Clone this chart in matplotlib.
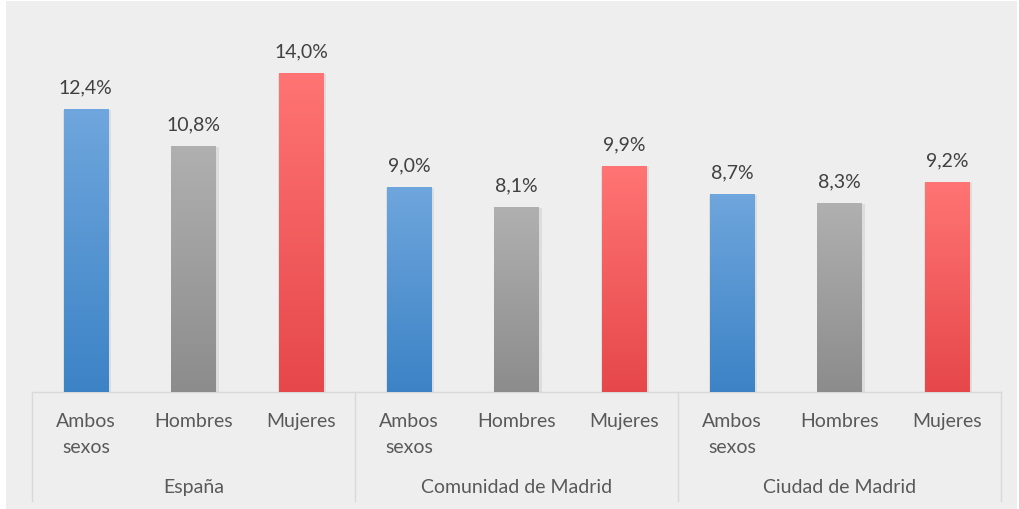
import numpy as np
import matplotlib
matplotlib.use("Agg")
import matplotlib.pyplot as plt
from matplotlib.patches import Rectangle

# data
groups = ["España", "Comunidad de Madrid", "Ciudad de Madrid"]
sexes = ["Ambos\nsexos", "Hombres", "Mujeres"]
espana = [12.4, 10.8, 14.0]
comunidad = [9.0, 8.1, 9.9]
ciudad = [8.7, 8.3, 9.2]

# top / bottom colours of the gradient for each sex
grad_top = ["#6fa6dd", "#b0b0b0", "#ff7474"]
grad_bot = ["#3c83c6", "#8c8c8c", "#e6474a"]

plt.rcParams['font.family'] = ['Lato', 'DejaVu Sans']

W, H = 1019, 510
fig = plt.figure(figsize=(W / 100, H / 100), dpi=100, facecolor="white")

# grey chart area
bg = fig.add_axes([0, 0, 1, 1])
bg.set_xlim(0, W)
bg.set_ylim(H, 0)
bg.axis("off")
bg.add_patch(Rectangle((6, 2), 1011, 508, facecolor="#eeeeee", edgecolor="none"))

x0, x1, ybase, ytop = 32, 1001, 393, 28.2
ax = fig.add_axes([x0 / W, 1 - ybase / H, (x1 - x0) / W, (ybase - ytop) / H])
ax.set_facecolor("none")
ax.set_xlim(0, 9)
ax.set_ylim(0, 16)
for s in ax.spines.values():
    s.set_visible(False)
ax.set_xticks([])
ax.set_yticks([])

def hex2rgb(h):
    return np.array(matplotlib.colors.to_rgb(h))

width = 0.41
all_vals = [espana, comunidad, ciudad]
for g, vals in enumerate(all_vals):
    for i, v in enumerate(vals):
        xc = g * 3 + i + 0.5
        # soft shadow
        ax.bar(xc + 0.01, v, width=width + 0.035, bottom=-0.05, color="#000000",
               alpha=0.07, zorder=1)
        rect = ax.bar(xc, v, width=width, color="none", zorder=2)[0]
        t = np.linspace(0, 1, 256)[:, None]
        c = hex2rgb(grad_top[i]) * (1 - t) + hex2rgb(grad_bot[i]) * t
        img = c[:, None, :].repeat(2, axis=1)
        im = ax.imshow(img, extent=(xc - width / 2, xc + width / 2, 0, v),
                       aspect="auto", zorder=2, interpolation="bilinear")
        im.set_clip_path(rect)
        ax.text(xc, v + 0.97, f"{v:.1f}".replace(".", ",") + "%",
                ha="center", va="center", fontsize=14, color="#404040")

# category axis drawn in pixel coordinates
line_c = "#d9d9d9"
bg.plot([x0, x1], [ybase, ybase], color=line_c, lw=1)
slot = (x1 - x0) / 9
for k in range(4):
    xs = x0 + k * 3 * slot
    bg.plot([xs, xs], [ybase, 502], color=line_c, lw=1)
for g, name in enumerate(groups):
    for i, lab in enumerate(sexes):
        xc = x0 + (g * 3 + i + 0.5) * slot
        bg.text(xc, 413, lab, ha="center", va="top", fontsize=14,
                color="#595959", linespacing=1.62)
    bg.text(x0 + (g * 3 + 1.5) * slot, 488, name, ha="center", va="center",
            fontsize=14, color="#595959")

fig.savefig("out.png", dpi=100, facecolor="white")
